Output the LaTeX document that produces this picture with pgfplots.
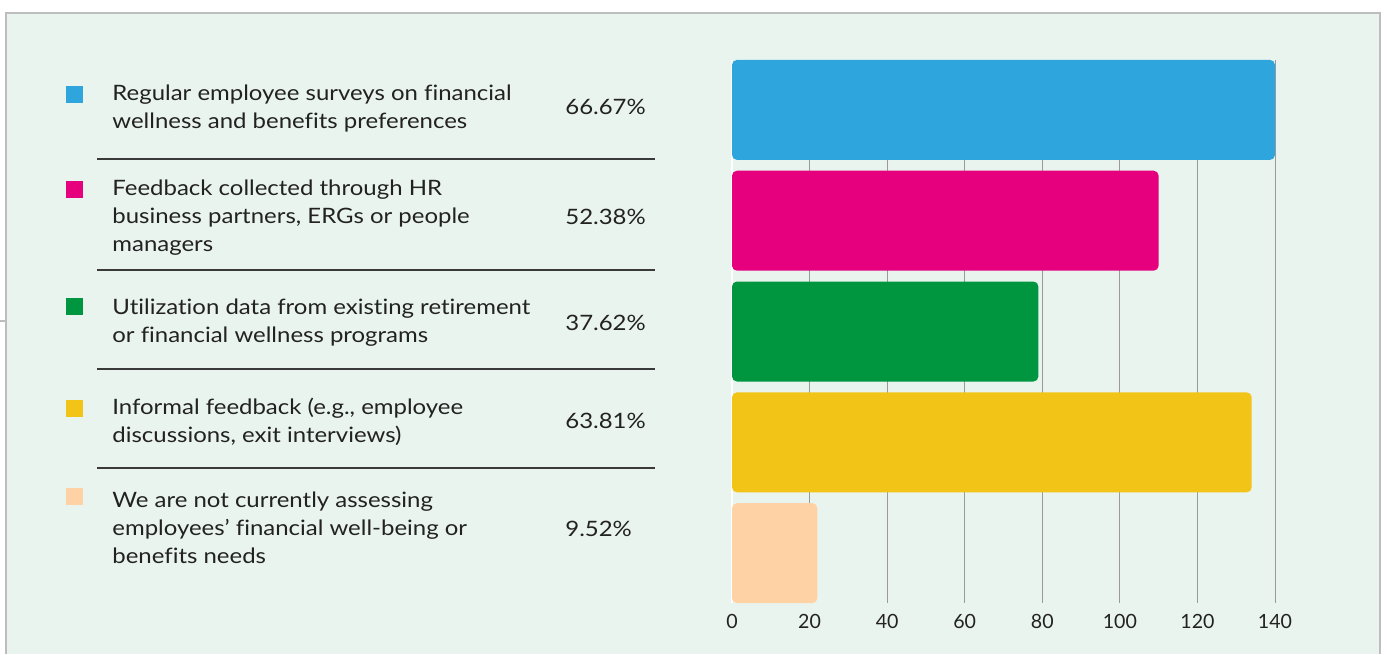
\documentclass[border=0pt]{standalone}
\usepackage{pgfplots}
\pgfplotsset{compat=1.18}
\usepackage{fontspec}
\setmainfont{Lato}[FakeStretch=1.13, Ligatures=NoCommon]
\newfontfamily\tickfont{Lato}
\definecolor{bg}{HTML}{EAF4EF}
\definecolor{bordergray}{HTML}{BDBDBD}
\definecolor{cblue}{HTML}{2EA6DD}
\definecolor{cmag}{HTML}{E6007E}
\definecolor{cgreen}{HTML}{009640}
\definecolor{cyellow}{HTML}{F2C418}
\definecolor{cpeach}{HTML}{FFD2A5}
\definecolor{txt}{HTML}{222222}
\definecolor{sep}{HTML}{3A3A3A}
\definecolor{gridc}{HTML}{9A9A9A}
\newcommand{\lf}{\fontsize{10.6}{14}\selectfont}
\begin{document}
\begin{tikzpicture}
\begin{scope}[x=0.5pt,y=-0.5pt]
\path[use as bounding box] (0,0) rectangle (1387,654);
\fill[white] (0,0) rectangle (1387,654);
\fill[bg] (6,13) rectangle (1380,654);
\draw[bordergray, line width=0.75pt] (6,654) -- (6,13) -- (1380,13) -- (1380,654);
\draw[bordergray, line width=0.6pt] (0,321) -- (6,321);
% squares
\fill[cblue]   (66,86)  rectangle (83,103);
\fill[cmag]    (66,181) rectangle (83,198);
\fill[cgreen]  (66,298) rectangle (83,315);
\fill[cyellow] (66,400) rectangle (83,417);
\fill[cpeach]  (66,488) rectangle (83,505);
% separators
\foreach \yy in {158.5,270,368.5,468} \draw[sep, line width=1pt] (97,\yy) -- (655,\yy);
% texts
\begin{scope}[every node/.style={anchor=base west, inner sep=0pt, text=txt, font=\lf}]
\node at (112,100) {Regular employee surveys on financial};
\node at (112,128) {wellness and benefits preferences};
\node at (112,195) {Feedback collected through HR};
\node at (112,223) {business partners, ERGs or people};
\node at (112,251) {managers};
\node at (112,314) {Utilization data from existing retirement};
\node at (112,342) {or financial wellness programs};
\node at (112,414) {Informal feedback (e.g., employee};
\node at (112,442) {discussions, exit interviews)};
\node at (112,507) {We are not currently assessing};
\node at (112,535) {employees’ financial well-being or};
\node at (112,563) {benefits needs};
\node at (565,114) {66.67\%};
\node at (565,224) {52.38\%};
\node at (565,330) {37.62\%};
\node at (565,428) {63.81\%};
\node at (565,536) {9.52\%};
\end{scope}
\end{scope}
\begin{axis}[
  at={(366pt,-301.5pt)}, anchor=south west,
  scale only axis, width=271.5pt, height=271.5pt,
  xmin=0, xmax=140, ymin=-0.45, ymax=4.45, y dir=reverse,
  xbar, bar width=50pt, bar shift=0pt,
  axis line style={draw=none},
  ytick=\empty,
  xtick={20,40,...,140},
  extra x ticks={0},
  extra x tick style={grid style={white, line width=0.8pt}},
  xmajorgrids, grid style={gridc, line width=0.5pt},
  major tick length=0pt,
  tick label style={font=\tickfont\fontsize{9.8}{12}\selectfont, text=txt},
  xticklabel style={yshift=-2pt},
  /pgf/number format/assume math mode=true,
  clip=false,
  every axis plot/.append style={draw=none, rounded corners=2.5pt},
]
\addplot[fill=cblue] coordinates {(140,0)};
\addplot[fill=cmag] coordinates {(110,1)};
\addplot[fill=cgreen] coordinates {(79,2)};
\addplot[fill=cyellow] coordinates {(134,3)};
\addplot[fill=cpeach] coordinates {(22,4)};
\end{axis}
\end{tikzpicture}
\end{document}
